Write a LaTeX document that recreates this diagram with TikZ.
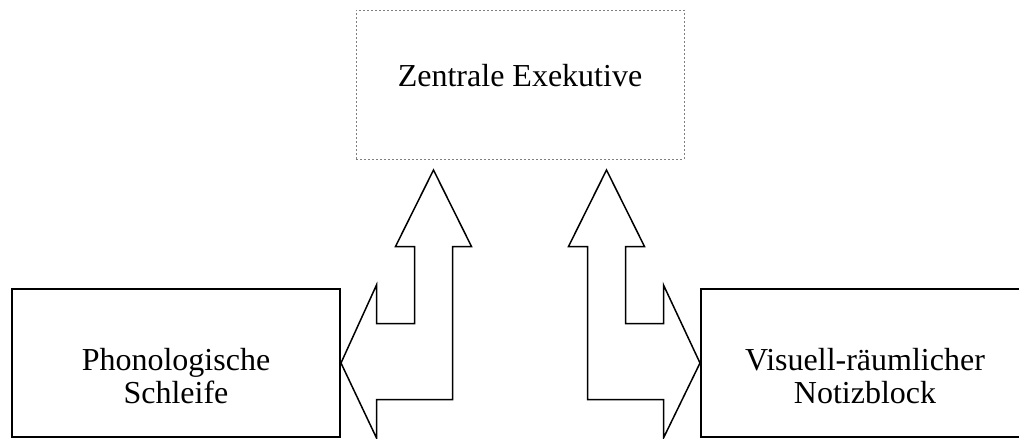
\documentclass[tikz,border=0pt]{standalone}
\usepackage{fontspec}
\setmainfont{Liberation Serif}
\usetikzlibrary{positioning}

\begin{document}
\begin{tikzpicture}[x=0.5pt,y=-0.5pt,line join=miter]
  \tikzstyle{block}=[draw,line width=1pt,minimum width=164pt,minimum height=74pt,inner sep=0pt]
  \tikzstyle{boxtext}=[align=center,font=\fontsize{16}{16.7}\selectfont,inner sep=0pt]
  \tikzstyle{blockarrow}=[draw,line width=0.75pt,fill=white]

  \useasboundingbox (0,0) rectangle (1019,439);

  % Kaesten
  \node[block,draw=gray,densely dotted,line width=0.5pt,minimum height=74.5pt] (ze) at (520,84.5) {};
  \node[block] (phon) at (176,363) {};
  \node[block] (vis) at (865,363) {};

  \node[boxtext] (zetxt) at (520,76) {Zentrale Exekutive};
  \node[boxtext] (phontxt) at (176,376) {Phonologische\\Schleife};
  \node[boxtext] (vistxt) at (865,376) {Visuell-r\"aumlicher\\Notizblock};

  % Pfeile
  \draw[blockarrow] (phon.east) -- (376.5,285) -- (376.5,323.5) -- (414.5,323.5)
    -- (414.5,246.5) -- (395.5,246.5) -- (433.5,170) -- (471.5,246.5) -- (452.5,246.5)
    -- (452.5,399.5) -- (376.5,399.5) -- (376.5,438) -- cycle;
  \draw[blockarrow] (vis.west) -- (663.5,285) -- (663.5,323.5) -- (625.5,323.5)
    -- (625.5,246.5) -- (644.5,246.5) -- (606.5,170) -- (568.5,246.5) -- (587.5,246.5)
    -- (587.5,399.5) -- (663.5,399.5) -- (663.5,438) -- cycle;
\end{tikzpicture}
\end{document}
